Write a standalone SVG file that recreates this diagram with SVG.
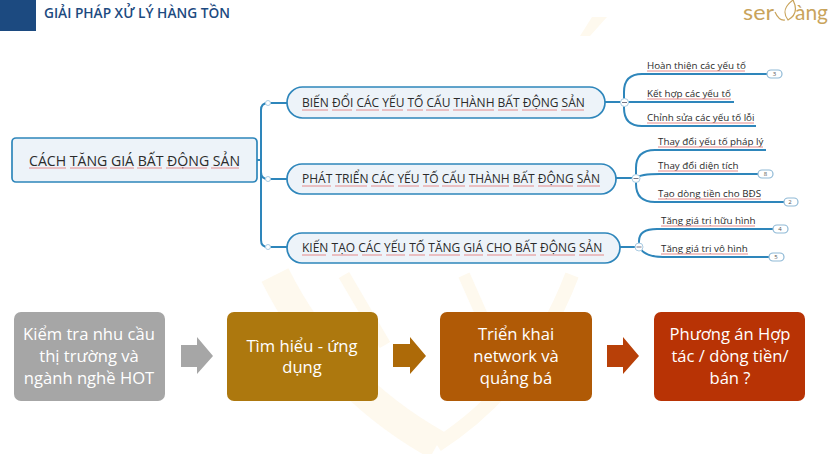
<svg xmlns="http://www.w3.org/2000/svg" width="828" height="454" viewBox="0 0 828 454">
<style>
.t{font-family:"Open Sans","Noto Sans",sans-serif;fill:#2b2b2b}
.m{font-size:12px}
.s{font-size:9.800px}
.w{font-family:"Open Sans","Noto Sans",sans-serif;font-size:16.600px;fill:#fff;text-anchor:middle}
.c{fill:none;stroke:#2e86bb;stroke-width:2}
.n{fill:#edf3f9;stroke:#2e86bb;stroke-width:1.7}
.u{stroke:#e58a8a;stroke-width:1;fill:none}
.b{fill:#fff;stroke:#8fb9d6;stroke-width:1.2}
.k{font-family:"Open Sans",sans-serif;font-size:6px;fill:#555;text-anchor:middle}
.g{font-family:"Lato","Open Sans",sans-serif;font-size:21px;fill:#c9a45c}
</style>
<rect width="828" height="454" fill="#fff"/>
<g id="watermark" fill="none" stroke="#fef9ee" stroke-linecap="butt">
<path d="M592 17 L607 17 L590 36 L580 36 Z" fill="#fef9ee" stroke="none"/>
<path d="M275 275 Q330 385 437 445" stroke-width="30"/>
<path d="M572 275 Q530 385 437 445" stroke-width="14"/>
<path d="M344 275 L385 345" stroke-width="12"/>
<path d="M464 275 L495 345" stroke-width="12"/>
</g>
<g id="header">
<rect x="0" y="0" width="36" height="31" fill="#1c4a80"/>
<text x="44" y="18" font-family="'Open Sans',sans-serif" font-size="13.700" font-weight="600" fill="#1c4a80">GIẢI PHÁP XỬ LÝ HÀNG TỒN</text>
</g>
<g id="logo">
<text class="g" x="743" y="20" textLength="31" lengthAdjust="spacingAndGlyphs">ser</text>
<path d="M775 12 Q779 21 785 20 M788 20 C782 12 785 6 793 0 C797 8 797 15 788 20Z" fill="none" stroke="#c9a45c" stroke-width="1.200"/>
<text class="g" x="795" y="20" textLength="33" lengthAdjust="spacingAndGlyphs">àng</text>
</g>
<g id="connectors">
<path class="c" d="M257 160 H261 M261 229 V110 Q261 103 268 103 H287 M261 172 Q261 179 268 179 H287 M261 229 V240 Q261 247 268 247 H287"/>
<path class="c" d="M605 102 H624 M624 102 V92 Q624 74 642 74 H767 M624 102 H734 M624 102 V108 Q624 126 642 126 H756"/>
<path class="c" d="M616 178 H636 M636 178 V168 Q636 150 655 150 H766 M636 178 Q640 174 660 174 H758 M636 178 V184 Q636 202 655 202 H784"/>
<path class="c" d="M620 247 H639 M639 247 V241 Q639 229 657 229 H773 M639 247 Q645 257 663 257 H769"/>
</g>
<g id="junctions" fill="#fff" stroke="#a9cce3" stroke-width="1">
<circle cx="268" cy="103" r="2.500"/><circle cx="268" cy="179" r="2.500"/><circle cx="268" cy="247" r="2.500"/>
<circle cx="624.500" cy="102.500" r="4"/><path d="M622 102.500H627" stroke="#778"/>
<circle cx="636" cy="178.500" r="4"/><path d="M633.500 178.500H638.500" stroke="#778"/>
<circle cx="639" cy="247" r="4"/><path d="M636.500 247H641.500" stroke="#778"/>
</g>
<g id="root">
<rect class="n" x="12" y="138" width="245" height="44" rx="4"/>
<text class="t" x="29" y="166" font-size="14.100">CÁCH TĂNG GIÁ BẤT ĐỘNG SẢN</text>
<path class="u" d="M29 168H66M70 168H107M110 168H134M137 168H162M166 168H207M211 168H239"/>
</g>
<g id="b1">
<rect class="n" x="287" y="87" width="318" height="31" rx="15.500"/>
<text class="t m" x="302" y="107">BIẾN ĐỔI CÁC YẾU TỐ CẤU THÀNH BẤT ĐỘNG SẢN</text>
<path class="u" d="M302 110H328M332 110H352M356 110H379M382 110H403M407 110H423M426 110H449M453 110H494M498 110H518M522 110H557M561 110H584"/>
</g>
<g id="b2">
<rect class="n" x="287" y="164" width="329" height="30" rx="15"/>
<text class="t m" x="302" y="183">PHÁT TRIỂN CÁC YẾU TỐ CẤU THÀNH BẤT ĐỘNG SẢN</text>
<path class="u" d="M302 186H331M335 186H367M371 186H394M398 186H419M423 186H439M442 186H465M469 186H509M513 186H534M538 186H573M577 186H600"/>
</g>
<g id="b3">
<rect class="n" x="287" y="233" width="333" height="30" rx="15"/>
<text class="t m" x="302" y="252">KIẾN TẠO CÁC YẾU TỐ TĂNG GIÁ CHO BẤT ĐỘNG SẢN</text>
<path class="u" d="M302 255H326M332 255H358M362 255H382M386 255H405M409 255H425M429 255H460M464 255H483M487 255H512M516 255H536M540 255H575M579 255H604"/>
</g>
<g id="l1"><text class="t s" x="647" y="69">Hoàn thiện các yếu tố</text><path class="u" d="M647 71H745"/></g>
<g id="l2"><text class="t s" x="647" y="97">Kết hợp các yếu tố</text><path class="u" d="M647 99H731"/></g>
<g id="l3"><text class="t s" x="647" y="121">Chỉnh sửa các yếu tố lỗi</text><path class="u" d="M647 123H754"/></g>
<g id="l4"><text class="t s" x="658" y="145">Thay đổi yếu tố pháp lý</text><path class="u" d="M658 147H763"/></g>
<g id="l5"><text class="t s" x="658" y="169">Thay đổi diện tích</text><path class="u" d="M658 171H738"/></g>
<g id="l6"><text class="t s" x="658" y="197">Tạo dòng tiền cho BĐS</text><path class="u" d="M658 199H761"/></g>
<g id="l7"><text class="t s" x="661" y="224">Tăng giá trị hữu hình</text><path class="u" d="M661 226H755"/></g>
<g id="l8"><text class="t s" x="661" y="252">Tăng giá trị vô hình</text><path class="u" d="M661 254H748"/></g>
<g id="badges">
<rect class="b" x="767" y="70" width="15" height="8" rx="4"/><text class="k" x="774.500" y="76">3</text>
<rect class="b" x="758" y="170" width="15" height="8" rx="4"/><text class="k" x="765.500" y="176">8</text>
<rect class="b" x="784" y="198" width="14" height="8" rx="4"/><text class="k" x="790" y="204">2</text>
<rect class="b" x="773" y="225" width="15" height="8" rx="4"/><text class="k" x="780" y="231">4</text>
<rect class="b" x="769" y="253" width="15" height="8" rx="4"/><text class="k" x="776" y="259">5</text>
</g>
<g id="step1">
<rect x="14" y="312" width="151" height="89" rx="7" fill="#a6a6a6"/>
<text class="w"><tspan x="89" y="340">Kiểm tra nhu cầu</tspan><tspan x="89" y="362">thị trường và</tspan><tspan x="89" y="384">ngành nghề HOT</tspan></text>
</g>
<g id="arrow1"><path d="M181 345H197V337L213 356L197 374V367H181Z" fill="#a6a6a6"/></g>
<g id="step2">
<rect x="227" y="312" width="151" height="89" rx="7" fill="#ad780e"/>
<text class="w"><tspan x="302" y="352">Tìm hiểu - ứng</tspan><tspan x="302" y="373">dụng</tspan></text>
</g>
<g id="arrow2"><path d="M393 344H410V337L426 356L410 374V367H393Z" fill="#ad6a08"/></g>
<g id="step3">
<rect x="440" y="312" width="152" height="89" rx="7" fill="#b05a06"/>
<text class="w"><tspan x="516" y="340">Triển khai</tspan><tspan x="516" y="362">network và</tspan><tspan x="516" y="384">quảng bá</tspan></text>
</g>
<g id="arrow3"><path d="M607 345H623V337L639 356L623 374V367H607Z" fill="#b84008"/></g>
<g id="step4">
<rect x="654" y="312" width="151" height="89" rx="7" fill="#b83305"/>
<text class="w"><tspan x="730" y="340">Phương án Hợp</tspan><tspan x="730" y="362">tác / dòng tiền/</tspan><tspan x="730" y="384">bán ?</tspan></text>
</g>
</svg>
